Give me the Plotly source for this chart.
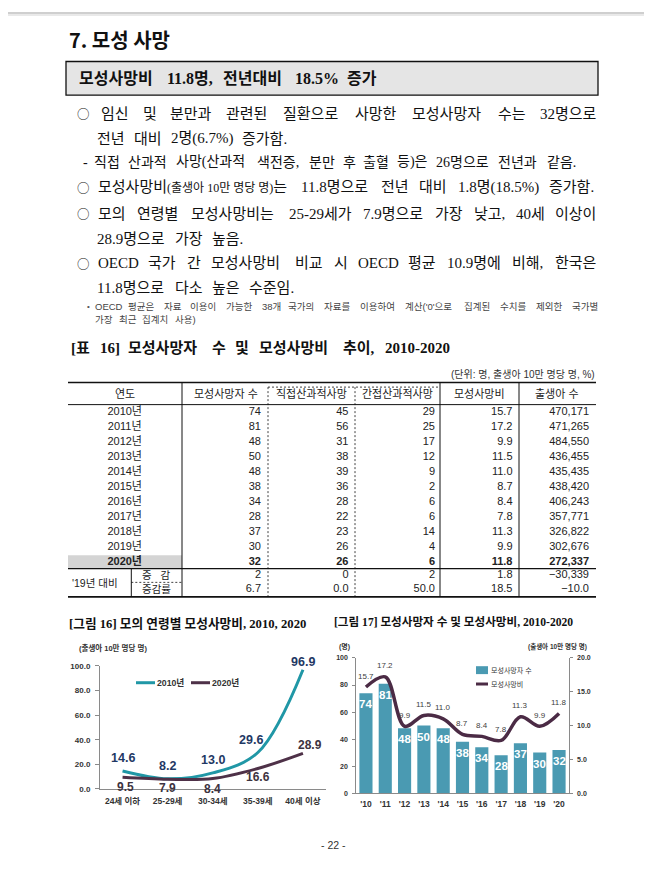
import plotly.graph_objects as go

W, H = 652, 874


def px(x):
    return x / W


def py(y):
    return 1 - y / H


BODY = "Liberation Serif, Noto Sans CJK KR"
SANS = "Liberation Sans, Noto Sans CJK KR"
CJK = "Noto Sans CJK KR"

# ---------------- data ----------------
years = ["2010", "2011", "2012", "2013", "2014", "2015", "2016", "2017", "2018", "2019", "2020"]
year_labels = [y + "년" for y in years]
short_years = ["'" + y[2:] for y in years]
deaths = [74, 81, 48, 50, 48, 38, 34, 28, 37, 30, 32]
direct_deaths = [45, 56, 31, 38, 39, 36, 28, 22, 23, 26, 26]
indirect_deaths = [29, 25, 17, 12, 9, 2, 6, 6, 14, 4, 6]
mmr = [15.7, 17.2, 9.9, 11.5, 11.0, 8.7, 8.4, 7.8, 11.3, 9.9, 11.8]
births = [470171, 471265, 484550, 436455, 435435, 438420, 406243, 357771, 326822, 302676, 272337]
change_vs_2019 = [2, 0, 2, 1.8, -30339]
change_rate_vs_2019 = [6.7, 0.0, 50.0, 18.5, -10.0]
table_headers = ["연도", "모성사망자 수", "직접산과적사망", "간접산과적사망", "모성사망비", "출생아 수"]

age_groups = ["24세 이하", "25-29세", "30-34세", "35-39세", "40세 이상"]
mmr_age_2010 = [14.6, 8.2, 13.0, 29.6, 96.9]
mmr_age_2020 = [9.5, 7.9, 8.4, 16.6, 28.9]

TEAL = "#2097a6"
PLUM = "#4e3148"
BAR = "#4a9ab2"
MLINE = "#4b2b45"

fig = go.Figure()
ann = []
shapes = []


def text(x, y, s, size, family=BODY, color="#111", bold=False, xanchor="left", yanchor="middle"):
    ann.append(dict(x=px(x), y=py(y), xref="paper", yref="paper", text=s, showarrow=False,
                    xanchor=xanchor, yanchor=yanchor, borderpad=0,
                    font=dict(family=family, size=size, color=color,
                              weight="bold" if bold else "normal")))


def est_width(t, size, bold=False):
    w = 0.0
    for ch in t:
        o = ord(ch)
        if 0xAC00 <= o <= 0xD7A3 or ch in "○":
            w += 1.0
        elif ch.isdigit():
            w += 0.5
        elif ch in ".,":
            w += 0.25
        elif ch == " ":
            w += 0.25
        elif ch in "()[]-":
            w += 0.333
        elif ch == "%":
            w += 1.0 if bold else 0.833
        elif ch in "OD":
            w += 0.722
        elif ch == "E":
            w += 0.611
        elif ch == "C":
            w += 0.667
        elif ch in "'•":
            w += 0.3
        else:
            w += 0.5
    return w * size


def place_line(tokens, x0, y, size, x1=None, gap=6, **kw):
    toks = []
    for t in tokens:
        if isinstance(t, str):
            toks.append((t, size, est_width(t, size, kw.get("bold", False)), None))
        elif len(t) == 2:
            toks.append((t[0], t[1], est_width(t[0], t[1], kw.get("bold", False)), None))
        elif len(t) == 3:
            toks.append((t[0], t[1], t[2], None))
        else:
            toks.append(t)
    if x1 is not None:
        gap = (x1 - x0 - sum(tk[2] for tk in toks)) / (len(toks) - 1)
    x = x0
    for t, s, w, fam in toks:
        kw2 = dict(kw)
        if fam:
            kw2["family"] = fam
        text(x, y, t, s, **kw2)
        x += w + gap


def hline(x0, x1, y, w=1.0, dash="solid", color="#111"):
    shapes.append(dict(type="line", xref="paper", yref="paper", x0=px(x0), x1=px(x1), y0=py(y), y1=py(y),
                       line=dict(color=color, width=w, dash=dash)))


def vline(x, y0, y1, w=1.0, dash="solid", color="#111"):
    shapes.append(dict(type="line", xref="paper", yref="paper", x0=px(x), x1=px(x), y0=py(y0), y1=py(y1),
                       line=dict(color=color, width=w, dash=dash)))


def rect(x0, y0, x1, y1, fill, lw=0, lc="#111"):
    shapes.append(dict(type="rect", xref="paper", yref="paper", x0=px(x0), x1=px(x1), y0=py(y1), y1=py(y0),
                       fillcolor=fill, line=dict(width=lw, color=lc), layer="below"))


# ---------------- page header ----------------
rect(0, 0, W, 2, "#cfcfcf")
rect(0, 2, W, 4, "#e9e9e9")
text(60, 28, "7. 모성 사망", 20, family=CJK, bold=True)
rect(58, 50, 590, 84, "#e5e5e5", lw=1.3)
place_line(["모성사망비", "11.8명,", "전년대비", "18.5%", "증가"], 70, 67, 16, gap=8, bold=True)

# ---------------- body text ----------------
BUL = ("○", 12.5, 12.5, CJK)
place_line([BUL, "임신", "및", "분만과", "관련된", "질환으로", "사망한", "모성사망자", "수는", "32명으로"],
           68, 103, 15, x1=591)
place_line(["전년", "대비", "2명(6.7%)", "증가함."], 88, 128, 15, gap=7)
place_line(["-", "직접", "산과적", "사망(산과적", "색전증,", "분만", "후", "출혈", "등)은", "26명으로", "전년과", "같음."],
           74, 152, 14, x1=569)
tok4 = ("모성사망비<span style='font-size:12px'>(출생아 10만 명당 명)</span>는", 15,
        est_width("모성사망비", 15) + est_width("(출생아 10만 명당 명)", 12) * 0.92 + est_width("는", 15))
place_line([BUL, tok4, "11.8명으로", "전년", "대비", "1.8명(18.5%)", "증가함."], 68, 177, 15, x1=589)
place_line([BUL, "모의", "연령별", "모성사망비는", "25-29세가", "7.9명으로", "가장", "낮고,", "40세", "이상이"],
           68, 204, 15, x1=591)
place_line(["28.9명으로", "가장", "높음."], 88, 229, 15, gap=7)
place_line([BUL, "OECD", "국가", "간", "모성사망비", "비교", "시", "OECD", "평균", "10.9명에", "비해,", "한국은"],
           68, 254, 15, x1=591)
place_line(["11.8명으로", "다소", "높은", "수준임."], 88, 279, 15, gap=7)
text(78, 298, "•", 8, family=SANS, color="#555")
place_line(["OECD", "평균은", "자료", "이용이", "가능한", "38개", "국가의", "자료를", "이용하여",
            "계산('0'으로", "집계된", "수치를", "제외한", "국가별"], 86, 298, 9.5, x1=591, family=SANS, color="#444")
place_line(["가장", "최근", "집계치", "사용)"], 86, 311, 9.5, gap=4.5, family=SANS, color="#444")

# ---------------- table ----------------
place_line(["[표", "16]", "모성사망자", "수", "및", "모성사망비", "추이,", "2010-2020"], 62, 340, 15, x1=441, bold=True)
text(588, 366, "(단위: 명, 출생아 10만 명당 명, %)", 10, family=SANS, color="#333", xanchor="right")

T_L, T_R = 60, 588
T_TOP, T_HDR, T_20B, T_BOT = 374.3, 396.7, 562.5, 591
rect(T_L, 549, 174, T_20B, "#d4d4d4")
hline(T_L, T_R, T_TOP, 1.6)
hline(T_L, T_R, T_HDR, 1.0)
hline(T_L, T_R, T_20B, 1.2)
hline(T_L, T_R, T_BOT, 1.6)
for xv in (174, 432, 511):
    vline(xv, T_TOP, T_BOT, 1.0)
for xv in (260, 347):
    vline(xv, 379, T_BOT, 0.8, dash="2px,2px")
hline(260, 432, 379, 0.8, dash="2px,2px")
vline(123.3, T_20B, T_BOT, 1.0)
hline(123.3, 174, 576.3, 0.8, dash="2px,2px")

hdr_x = [116.7, 218, 303.5, 389, 471.7, 549]
for xh, h in zip(hdr_x, table_headers):
    text(xh, 386, h, 11, family=SANS, color="#222", xanchor="center")
text(87, 576.5, "'19년 대비", 10.5, family=SANS, color="#222", xanchor="center")
text(148, 568.8, "증&nbsp;&nbsp;&nbsp;감", 10.5, family=SANS, color="#222", xanchor="center")
text(148, 583.5, "증감률", 10.5, family=SANS, color="#222", xanchor="center")

row_y = [404.3 + i * 15.15 for i in range(len(years))]
col_right = [253, 340.5, 427, 504.5, 581]


def fmt_int(v):
    return str(v).replace("-", "−")


def fmt_1f(v):
    return f"{v:.1f}".replace("-", "−")


def fmt_comma(v):
    return f"{v:,}".replace("-", "−")


columns = [deaths, direct_deaths, indirect_deaths, mmr, births]
fmts = [fmt_int, fmt_int, fmt_int, fmt_1f, fmt_comma]
chg_fmts = [fmt_int, fmt_int, fmt_int, fmt_1f, fmt_comma]

n = len(years)
for bold, rows in ((False, list(range(n - 1))), (True, [n - 1])):
    tf = dict(family=SANS, size=11, color="#222", weight="bold" if bold else "normal")
    fig.add_trace(go.Scatter(x=[116.7] * len(rows), y=[row_y[i] for i in rows],
                             text=[year_labels[i] for i in rows], mode="text", textposition="middle center",
                             textfont=tf, xaxis="x3", yaxis="y4", hoverinfo="skip", showlegend=False,
                             cliponaxis=False))
    xs, ys, ts = [], [], []
    for c, (col, f) in enumerate(zip(columns, fmts)):
        for i in rows:
            xs.append(col_right[c])
            ys.append(row_y[i])
            ts.append(f(col[i]))
    fig.add_trace(go.Scatter(x=xs, y=ys, text=ts, mode="text", textposition="middle left", textfont=tf,
                             xaxis="x3", yaxis="y4", hoverinfo="skip", showlegend=False, cliponaxis=False))

xs, ys, ts = [], [], []
for c in range(5):
    xs += [col_right[c], col_right[c]]
    ys += [569.5, 583]
    ts += [chg_fmts[c](change_vs_2019[c]), fmt_1f(change_rate_vs_2019[c])]
fig.add_trace(go.Scatter(x=xs, y=ys, text=ts, mode="text", textposition="middle left",
                         textfont=dict(family=SANS, size=11, color="#222"), xaxis="x3", yaxis="y4",
                         hoverinfo="skip", showlegend=False, cliponaxis=False))

# ---------------- chart 16 ----------------
text(60, 618, "[그림 16] 모의 연령별 모성사망비, 2010, 2020", 12.7, bold=True)
text(70, 643, "(출생아 10만 명당 명)", 7.5, family=SANS, color="#333", bold=True)
fig.add_trace(go.Scatter(x=age_groups, y=mmr_age_2010, mode="lines", name="2010년",
                         line=dict(color=TEAL, width=3, shape="spline", smoothing=1.0),
                         xaxis="x", yaxis="y", showlegend=False, cliponaxis=False))
fig.add_trace(go.Scatter(x=age_groups, y=mmr_age_2020, mode="lines", name="2020년",
                         line=dict(color=PLUM, width=3, shape="spline", smoothing=1.0),
                         xaxis="x", yaxis="y", showlegend=False, cliponaxis=False))
off_2010 = [(0, 13), (0, 13), (0, 13), (-7, 13), (0, 8)]
off_2020 = [(3, -9.5), (0, -9), (0, -10), (0, -9), (7, 8.5)]
for a, v, (dx, dy) in zip(age_groups, mmr_age_2010, off_2010):
    ann.append(dict(x=a, y=v, xref="x", yref="y", text=f"{v:.1f}", showarrow=False, xshift=dx, yshift=dy,
                    font=dict(family="Liberation Sans", size=12.5, color="#1f3864", weight="bold")))
for a, v, (dx, dy) in zip(age_groups, mmr_age_2020, off_2020):
    ann.append(dict(x=a, y=v, xref="x", yref="y", text=f"{v:.1f}", showarrow=False, xshift=dx, yshift=dy,
                    font=dict(family="Liberation Sans", size=12, color="#3d3340", weight="bold")))
# legend
hline(128, 147, 677.7, 3, color=TEAL)
text(148, 677.7, "2010년", 8.7, family=SANS, color="#333", bold=True)
hline(183, 202, 677.7, 3, color=PLUM)
text(203, 677.7, "2020년", 8.7, family=SANS, color="#333", bold=True)

# ---------------- chart 17 ----------------
text(325, 617, "[그림 17] 모성사망자 수 및 모성사망비, 2010-2020", 11.6, bold=True)
text(336.7, 641, "(명)", 7, family=SANS, color="#333", bold=True, xanchor="center")
text(580, 641, "(출생아 10만 명당 명)", 6.5, family=SANS, color="#333", bold=True, xanchor="right")
fig.add_trace(go.Bar(x=short_years, y=deaths, marker=dict(color=BAR, line=dict(width=0)), width=0.68,
                     xaxis="x2", yaxis="y2", showlegend=False, hoverinfo="skip"))
for yl, v in zip(short_years, deaths):
    ann.append(dict(x=yl, y=v, xref="x2", yref="y2", text=str(v), showarrow=False, yshift=-11,
                    font=dict(family="Liberation Sans", size=11.5, color="white", weight="bold")))
fig.add_trace(go.Scatter(x=short_years, y=mmr, mode="lines",
                         line=dict(color=MLINE, width=3.5, shape="spline", smoothing=1.0),
                         xaxis="x2", yaxis="y3", showlegend=False, cliponaxis=False))
for yl, v in zip(short_years, mmr):
    ann.append(dict(x=yl, y=v, xref="x2", yref="y3", text=f"{v:.1f}", showarrow=False, yshift=11,
                    font=dict(family="Liberation Sans", size=8, color="#404040")))
rect(468, 661, 480, 669, BAR)
text(482, 665, "모성사망자 수", 7, family=SANS, color="#333")
hline(468, 480, 679, 3, color=MLINE)
text(482, 679, "모성사망비", 7, family=SANS, color="#333")

# page number
text(325, 842, "- 22 -", 10.5, family=SANS, color="#333", xanchor="center")

AX = "#8a8a8a"
tick_font = dict(family="Liberation Sans", size=8, color="#333", weight="bold")
fig.update_layout(
    width=W, height=H, margin=dict(l=0, r=0, t=0, b=0),
    paper_bgcolor="white", plot_bgcolor="rgba(0,0,0,0)",
    font=dict(family=CJK, color="#111"),
    showlegend=False, bargap=0.3,
    xaxis=dict(domain=[px(92), px(317.5)], anchor="y", type="category", range=[-0.5, 4.5],
               showline=True, linecolor=AX, linewidth=1, ticks="", showgrid=False, zeroline=False,
               tickfont=dict(family=SANS, size=8.5, color="#333", weight="bold"), ticklabelstandoff=4,
               fixedrange=True),
    yaxis=dict(domain=[py(785), py(660.7)], anchor="x", range=[0, 100], dtick=20, tickformat=".1f",
               showline=True, linecolor=AX, linewidth=1, ticks="outside", ticklen=4, tickcolor=AX,
               showgrid=False, zeroline=False, tickfont=tick_font, ticklabelstandoff=3),
    xaxis2=dict(domain=[px(348.3), px(560.7)], anchor="y2", type="category", range=[-0.5, 10.5],
                showline=True, linecolor=AX, linewidth=1, ticks="", showgrid=False, zeroline=False,
                tickfont=dict(family="Liberation Sans", size=8.5, color="#333", weight="bold"),
                ticklabelstandoff=3),
    yaxis2=dict(domain=[py(789.3), py(652.7)], anchor="x2", range=[0, 100], dtick=20,
                showline=True, linecolor=AX, linewidth=1, ticks="outside", ticklen=3, tickcolor=AX,
                showgrid=False, zeroline=False,
                tickfont=dict(family="Liberation Sans", size=7, color="#333", weight="bold"),
                ticklabelstandoff=3),
    yaxis3=dict(overlaying="y2", anchor="x2", side="right", range=[0, 20], dtick=5, tickformat=".1f",
                showline=True, linecolor=AX, linewidth=1, ticks="outside", ticklen=3, tickcolor=AX,
                showgrid=False, zeroline=False,
                tickfont=dict(family="Liberation Sans", size=7, color="#333", weight="bold"),
                ticklabelstandoff=3),
    xaxis3=dict(domain=[0, 1], anchor="y4", range=[0, W], visible=False, fixedrange=True),
    yaxis4=dict(domain=[0, 1], anchor="x3", range=[H, 0], visible=False, fixedrange=True),
    annotations=ann, shapes=shapes,
)

fig.write_html("out.html")
